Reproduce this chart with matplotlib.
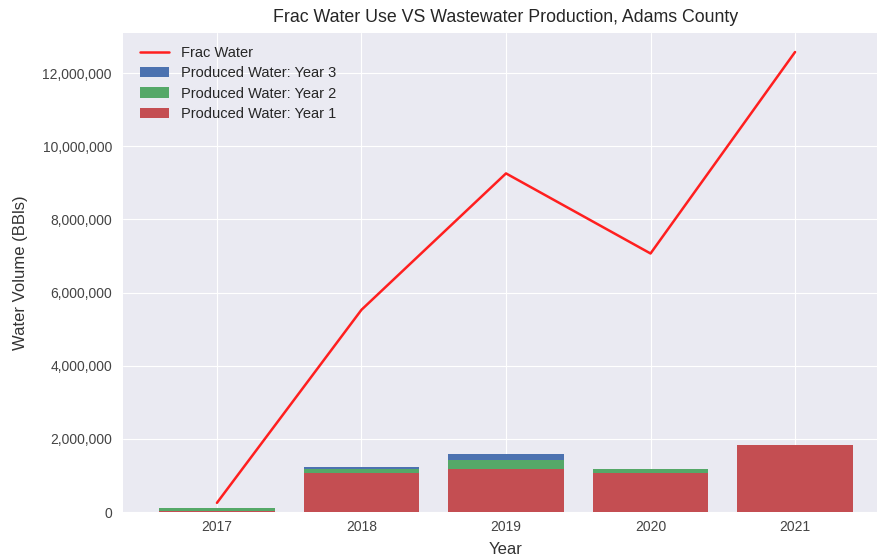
import matplotlib
matplotlib.use('Agg')
import matplotlib.pyplot as plt
import matplotlib.ticker as mticker
import numpy as np

years = ['2017', '2018', '2019', '2020', '2021']
frac_water = [250000, 5530000, 9260000, 7070000, 12580000]
produced_y1 = [30000, 1080000, 1170000, 1080000, 1840000]
produced_y2 = [70000, 90000, 260000, 90000, 0]
produced_y3 = [0, 50000, 160000, 0, 0]

plt.style.use('seaborn-v0_8-darkgrid')
plt.rcParams['font.family'] = ['Liberation Sans', 'DejaVu Sans']

fig = plt.figure(figsize=(8.77, 5.58), dpi=100)
# right edge of axes runs past the figure, like the cropped original
ax = fig.add_axes([123 / 877, 46 / 558, 766 / 877, 479 / 558])

y1 = np.array(produced_y1)
y12 = y1 + np.array(produced_y2)
y123 = y12 + np.array(produced_y3)

ax.plot(years, frac_water, color='#ff1f1f', linewidth=1.8, label='Frac Water')
ax.bar(years, y123, color='#4C72B0', label='Produced Water: Year 3')
ax.bar(years, y12, color='#55A868', label='Produced Water: Year 2')
ax.bar(years, y1, color='#C44E52', label='Produced Water: Year 1')

ax.set_xlim(-0.65, 4.65)
ax.set_ylim(0, 13100000)
ax.yaxis.set_major_formatter(mticker.StrMethodFormatter('{x:,.0f}'))
ax.tick_params(axis='y', labelsize=10, colors='#444444', pad=8)
ax.tick_params(axis='x', labelsize=10, colors='#444444', pad=5.5)

ax.set_title('Frac Water Use VS Wastewater Production, Adams County', fontsize=12.8, color='#262626', pad=8)
ax.set_xlabel('Year', fontsize=12, color='#333333', labelpad=6)
ax.set_ylabel('Water Volume (BBls)', fontsize=12, color='#333333', labelpad=10)

ax.legend(loc='upper left', bbox_to_anchor=(4 / 766, 1.0), fontsize=10.5,
          labelspacing=0.43, frameon=False)

fig.savefig('out.png', dpi=100)
